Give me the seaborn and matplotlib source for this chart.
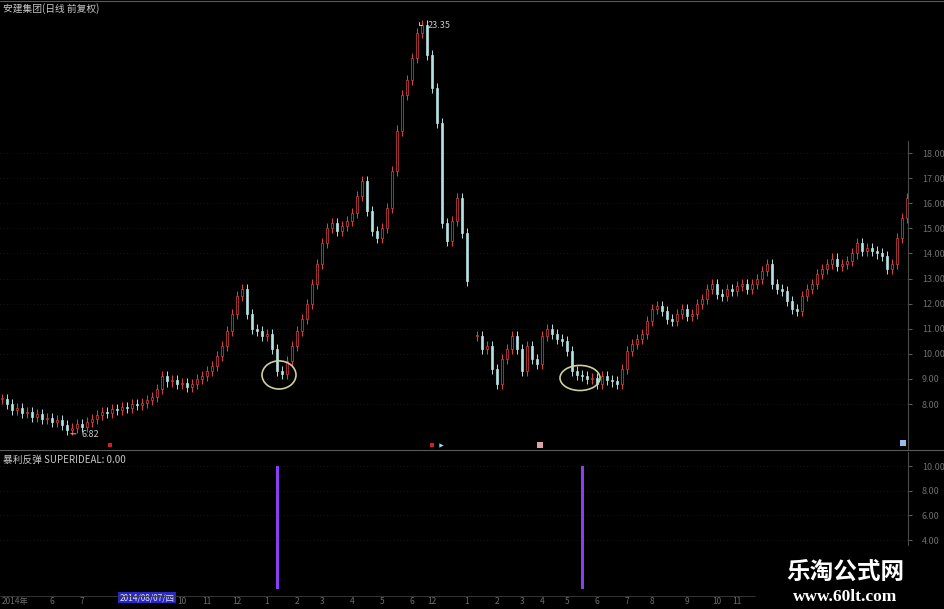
import numpy as np
import pandas as pd
import matplotlib
matplotlib.use("Agg")
import matplotlib.pyplot as plt
from matplotlib.lines import Line2D
from matplotlib.patches import Ellipse
import seaborn as sns

sns.set_theme(style="dark", rc={"axes.facecolor": "black", "figure.facecolor": "black"})
plt.rcParams["font.family"] = ["Noto Sans CJK SC", "DejaVu Sans"]

# --- Data (daily closes, one per ~5px) ---
close = [
    8.2, 8.0, 7.75, 7.85, 7.65, 7.7, 7.5, 7.6, 7.4, 7.45,
    7.3, 7.35, 7.15, 6.95, 7.05, 7.2, 7.1, 7.3, 7.4, 7.55,
    7.7, 7.65, 7.8, 7.75, 7.9, 7.85, 8.0, 7.95, 8.05, 8.15,
    8.3, 8.6, 9.1, 8.9, 8.95, 8.8, 8.85, 8.7, 8.8, 9.0,
    9.1, 9.3, 9.5, 9.9, 10.3, 10.9, 11.6, 12.3, 12.6, 11.6,
    11.0, 10.9, 10.7, 10.8, 10.2, 9.3, 9.2, 9.7, 10.3, 10.9,
    11.4, 12.0, 12.8, 13.6, 14.4, 15.0, 15.2, 14.9, 15.1, 15.3,
    15.6, 16.3, 16.9, 15.7, 14.9, 14.6, 15.0, 15.8, 17.3, 18.9,
    20.3, 20.9, 21.8, 22.8, 23.1, 21.9, 20.6, 19.2, 15.2, 14.5,
    15.3, 16.2, 14.8, 12.9, np.nan, 10.7, 10.2, 10.3, 9.4, 8.8,
    9.8, 10.2, 10.7, 10.2, 9.3, 10.3, 9.8, 9.6, 10.7, 11.0,
    10.8, 10.6, 10.5, 10.1, 9.3, 9.15, 9.1, 9.0, 9.05, 8.8,
    9.1, 8.95, 8.9, 8.8, 9.4, 10.1, 10.4, 10.6, 10.8, 11.3,
    11.8, 11.9, 11.7, 11.4, 11.3, 11.6, 11.8, 11.5, 11.6, 12.0,
    12.2, 12.6, 12.8, 12.4, 12.3, 12.6, 12.5, 12.7, 12.8, 12.6,
    12.8, 13.0, 13.3, 13.6, 12.8, 12.6, 12.5, 12.1, 11.8, 11.7,
    12.3, 12.6, 12.8, 13.2, 13.4, 13.6, 13.8, 13.5, 13.6, 13.7,
    14.0, 14.4, 14.1, 14.2, 14.1, 14.0, 13.9, 13.4, 13.6, 14.6,
    15.4, 16.2,
]

# SUPERIDEAL signal bars
signal_idx = [55, 116]
signal_val = [10, 10]

# x-axis month labels (candle index where each label sits)
tick_idx = [0, 10, 16, 36, 41, 47, 53, 59, 64, 70, 76, 82, 86, 93,
            99, 104, 108, 113, 119, 125, 130, 137, 143, 147]
tick_lab = ["2014年", "6", "7", "10", "11", "12", "1", "2", "3", "4", "5", "6", "12", "1",
            "2", "3", "4", "5", "6", "7", "8", "9", "10", "11"]
cursor_idx = 29
cursor_lab = "2014/08/07/四"

price_ticks = list(range(8, 19))
ind_ticks = [4, 6, 8, 10]

high_idx, high_val = 84, 23.35
low_idx, low_val = 13, 6.82

circle_idx = [55.4, 115.6]
circle_val = [9.16, 9.04]

# --- Candles ---
df = pd.DataFrame({"close": close})
df["open"] = df["close"].shift(1)
df["open"] = df["open"].fillna(df["close"])
df = df.dropna()
df["up"] = df["close"] >= df["open"]

UP = "#e04448"
DOWN = "#b4e2e2"
GRAY = "#6e6e6e"

W, H = 945, 609
fig = plt.figure(figsize=(9.45, 6.09), dpi=100)
ax = fig.add_axes([0, (H - 450) / H, 908 / W, 450 / H])
ax2 = fig.add_axes([0, (H - 593) / H, 908 / W, 141 / H], sharex=ax)

for a in (ax, ax2):
    a.set_facecolor("black")
    for s in ("top", "left", "bottom"):
        a.spines[s].set_visible(False)
    a.spines["right"].set_color("#4a4a4a")
    a.spines["right"].set_linewidth(0.8)
    a.yaxis.tick_right()
    a.tick_params(axis="y", colors=GRAY, labelsize=6.5, length=3, width=0.6, pad=7)
    a.grid(False)

ax.set_xlim(-0.4, 181.2)
ax.set_ylim(6.17, 24.10)
ax2.set_ylim(-0.30, 11.14)

# faint dotted gridlines
for v in price_ticks:
    ax.axhline(v, color="#1e1e1e", lw=0.6, ls=(0, (1, 3)), zorder=0)
for v in ind_ticks:
    ax2.axhline(v, color="#1e1e1e", lw=0.6, ls=(0, (1, 3)), zorder=0)

up = df[df["up"]]
dn = df[~df["up"]]
for part, col in ((up, UP), (dn, DOWN)):
    lo = np.minimum(part["open"], part["close"])
    hi = np.maximum(part["open"], part["close"])
    ax.vlines(part.index, lo - 0.2, hi + 0.2, color=col, lw=0.7, zorder=2)
    ax.bar(part.index, np.maximum(hi - lo, 0.04), bottom=lo, width=0.45,
           color="black" if col == UP else col, edgecolor=col, linewidth=0.5, zorder=3)

ax.set_yticks(price_ticks)
ax.set_yticklabels([f"{v:.2f}" for v in price_ticks])
ax.spines["right"].set_bounds(6.17, 18.5)
ax.tick_params(axis="x", bottom=False, labelbottom=False)

# peak / trough labels
ax.annotate(f"{high_val:.2f}", xy=(high_idx - 0.6, high_val), xytext=(high_idx + 1.2, high_val - 0.25),
            color="#c8c8c8", fontsize=6.5, va="center",
            arrowprops=dict(arrowstyle="-", color="#c8c8c8", lw=0.7,
                            connectionstyle="angle,angleA=0,angleB=90,rad=0"))
ax.annotate(f"{low_val:.2f}", xy=(low_idx + 0.2, low_val), xytext=(low_idx + 3.0, low_val - 0.02),
            color="#c8c8c8", fontsize=6.5, va="center",
            arrowprops=dict(arrowstyle="-", color="#c8c8c8", lw=0.7))

for cx, cy in zip(circle_idx, circle_val):
    w = 6.8 if cx < 100 else 8.0
    h = 1.12 if cx < 100 else 1.0
    ax.add_patch(Ellipse((cx, cy), w, h, fill=False, edgecolor="#cfcf9a", lw=1.2, zorder=4))

# signal icons at the bottom of the price panel
ax.scatter([21.6, 86.0], [6.37, 6.37], marker="s", s=9, color="#d02020", linewidths=0, zorder=5)
ax.scatter([87.8], [6.37], marker=">", s=10, color="#90e0e8", linewidths=0, zorder=5)
ax.scatter([107.6], [6.37], marker="s", s=16, color="#e0a0a8", linewidths=0, zorder=5)
ax.scatter([180.2], [6.45], marker="s", s=16, color="#a0b8e8", linewidths=0, zorder=5)

ax.text(3 / 908, 1 - 9 / 450, "安建集团(日线 前复权)", transform=ax.transAxes,
        color="#c8c8c8", fontsize=7, va="center", ha="left")

# --- Indicator panel ---
ax2.bar(signal_idx, signal_val, width=0.6, color="#8a3ff0", edgecolor="none", linewidth=0, zorder=3)
ax2.set_yticks(ind_ticks)
ax2.set_yticklabels([f"{v:.2f}" for v in ind_ticks])
ax2.spines["right"].set_bounds(3.6, 11.14)
ax2.text(3 / 908, 1 - 8 / 141, "暴利反弹 SUPERIDEAL: 0.00", transform=ax2.transAxes,
         color="#c8c8c8", fontsize=7, va="center", ha="left")

ax2.set_xticks(tick_idx)
ax2.set_xticklabels(tick_lab)
ax2.tick_params(axis="x", colors=GRAY, labelsize=6, length=0, pad=3)
for lbl in ax2.get_xticklabels()[:1]:
    lbl.set_horizontalalignment("left")
ax2.text(cursor_idx, -0.30, cursor_lab, transform=ax2.transData, ha="center", va="top",
         fontsize=6, color="#e0e0ff",
         bbox=dict(boxstyle="square,pad=0.15", facecolor="#2828c8", edgecolor="none"))

# frame lines
fig.add_artist(Line2D([0, 1], [(H - 450) / H] * 2, color="#5a5a5a", lw=0.8))
fig.add_artist(Line2D([0, 1], [1 - 1 / H] * 2, color="#5a5a5a", lw=0.8))
fig.add_artist(Line2D([0, 755 / W], [(H - 596) / H] * 2, color="#3c3c3c", lw=0.6))

# watermark
fig.text(845 / W, 1 - 572 / H, "乐淘公式网", color="white", fontsize=17, fontweight="bold",
         ha="center", va="center", family=["Noto Sans CJK SC", "DejaVu Sans"])
fig.text(845 / W, 1 - 597 / H, "www.60lt.com", color="white", fontsize=12.5, fontweight="bold",
         ha="center", va="center", family=["Liberation Serif", "DejaVu Serif"])

fig.savefig("out.png", dpi=100, facecolor="black")
plt.close()
